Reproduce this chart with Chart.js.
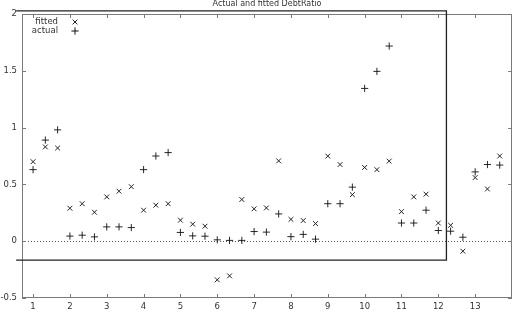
<!DOCTYPE html>
<html>
<head>
<meta charset="utf-8">
<script src="https://cdn.jsdelivr.net/npm/chart.js@4/dist/chart.umd.min.js"></script>
<style>
html,body{margin:0;padding:0;background:#fff;}
#wrap{width:516px;height:320px;position:relative;overflow:hidden;}
</style>
</head>
<body>
<div id="wrap"><canvas id="c" width="516" height="320"></canvas></div>
<script>
// Observations: 13 units x 3 periods, plotted at 1, 1.333, 1.667, 2, ...
const obsX = [1,4/3,5/3,2,7/3,8/3,3,10/3,11/3,4,13/3,14/3,5,16/3,17/3,6,19/3,20/3,7,22/3,23/3,8,25/3,26/3,9,28/3,29/3,10,31/3,32/3,11,34/3,35/3,12,37/3,38/3,13,40/3,41/3];
const actual = [0.63,0.89,0.98,0.045,0.053,0.038,0.126,0.126,0.12,0.63,0.75,0.78,0.077,0.047,0.044,0.012,0.007,0.007,0.085,0.08,0.24,0.04,0.06,0.018,0.33,0.33,0.476,1.345,1.495,1.718,0.16,0.16,0.273,0.094,0.088,0.035,0.61,0.675,0.67];
const fitted = [0.70,0.83,0.82,0.29,0.33,0.255,0.39,0.44,0.48,0.273,0.317,0.33,0.185,0.15,0.132,-0.34,-0.305,0.367,0.285,0.293,0.707,0.192,0.182,0.155,0.749,0.675,0.41,0.649,0.63,0.705,0.26,0.39,0.414,0.16,0.14,-0.088,0.56,0.46,0.75];
const xTicks = [1,2,3,4,5,6,7,8,9,10,11,12,13];
const yTicks = [-0.5,0,0.5,1,1.5,2];
const titleText = 'Actual and fitted DebtRatio';
const legendLabels = ['fitted','actual'];

const FONT = '"DejaVu Sans", sans-serif';
const fittedPts = obsX.map((x,i)=>({x:x,y:fitted[i]}));
const actualPts = obsX.map((x,i)=>({x:x,y:actual[i]}));

const decor = {
  id:'decor',
  beforeDatasetsDraw(chart){
    const ctx = chart.ctx, ys = chart.scales.y;
    const a = chart.chartArea;
    ctx.save();
    ctx.strokeStyle = '#555';
    ctx.lineWidth = 1;
    ctx.setLineDash([1,2]);
    const y0 = Math.round(ys.getPixelForValue(0))+0.5;
    ctx.beginPath(); ctx.moveTo(a.left, y0); ctx.lineTo(a.right, y0); ctx.stroke();
    ctx.restore();
  },
  afterDraw(chart){
    const ctx = chart.ctx, xs = chart.scales.x, ys = chart.scales.y;
    const a = chart.chartArea;
    ctx.save();
    ctx.strokeStyle = '#7a7a7a';
    ctx.lineWidth = 1;
    ctx.strokeRect(a.left+0.5, a.top+0.5, a.right-a.left-1, a.bottom-a.top-1);
    const tl = 4;
    ctx.beginPath();
    xTicks.forEach(v=>{
      const px = Math.round(xs.getPixelForValue(v))+0.5;
      ctx.moveTo(px, a.bottom); ctx.lineTo(px, a.bottom-tl);
      ctx.moveTo(px, a.top); ctx.lineTo(px, a.top+tl);
    });
    yTicks.forEach(v=>{
      const py = Math.round(ys.getPixelForValue(v))+0.5;
      ctx.moveTo(a.left, py); ctx.lineTo(a.left+tl, py);
      ctx.moveTo(a.right, py); ctx.lineTo(a.right-tl, py);
    });
    ctx.stroke();
    // overlay frame (annotation box)
    const rx0 = xs.getPixelForValue(0.54), rx1 = xs.getPixelForValue(12.22);
    const ry0 = ys.getPixelForValue(2.027), ry1 = ys.getPixelForValue(-0.167);
    ctx.strokeStyle = '#222';
    ctx.lineWidth = 1.3;
    ctx.beginPath();
    ctx.moveTo(rx0, ry0); ctx.lineTo(rx1, ry0); ctx.lineTo(rx1, ry1); ctx.lineTo(rx0, ry1);
    ctx.stroke();
    // title
    ctx.fillStyle = '#333';
    ctx.font = '8px ' + FONT;
    ctx.textAlign = 'center';
    ctx.textBaseline = 'alphabetic';
    ctx.fillText(titleText, (a.left+a.right)/2, 6);
    // legend
    ctx.font = '8.5px ' + FONT;
    ctx.textAlign = 'right';
    ctx.textBaseline = 'middle';
    const ds = chart.data.datasets;
    const lx = a.left + 36, sx = a.left + 53;
    [0,1].forEach((k)=>{
      const ly = a.top + 8 + k*9;
      ctx.fillStyle = '#333';
      ctx.fillText(legendLabels[k], lx, ly);
      ctx.strokeStyle = ds[k].borderColor;
      ctx.lineWidth = 1;
      Chart.helpers.drawPoint(ctx, {pointStyle: ds[k].pointStyle, radius: ds[k].pointRadius, borderWidth: 1}, sx, ly);
    });
    ctx.restore();
  }
};

new Chart(document.getElementById('c'), {
  type: 'scatter',
  data: {
    datasets: [
      {label: legendLabels[0], data: fittedPts, pointStyle: 'crossRot', pointRadius: 3.4, pointHoverRadius: 3.4, borderColor: '#222', backgroundColor: '#222', borderWidth: 1},
      {label: legendLabels[1], data: actualPts, pointStyle: 'cross', pointRadius: 3.6, pointHoverRadius: 3.6, borderColor: '#111', backgroundColor: '#111', borderWidth: 0.9}
    ]
  },
  options: {
    responsive: false,
    devicePixelRatio: 1,
    animation: false,
    events: [],
    layout: {autoPadding: false, padding: {left: 0, right: 4, top: 14, bottom: 0}},
    plugins: {legend: {display: false}, tooltip: {enabled: false}, title: {display: false}},
    scales: {
      x: {
        type: 'linear', min: 0.7, max: 14,
        afterBuildTicks(s){ s.ticks = xTicks.map(v=>({value:v})); },
        afterFit(s){ s.height = 22; },
        grid: {display: false, drawTicks: false},
        border: {display: false},
        ticks: {padding: 4, color: '#333', font: {family: FONT, size: 8.5}, maxRotation: 0, autoSkip: false}
      },
      y: {
        type: 'linear', min: -0.5, max: 2,
        afterBuildTicks(s){ s.ticks = yTicks.map(v=>({value:v})); },
        afterFit(s){ s.width = 22; },
        grid: {display: false, drawTicks: false},
        border: {display: false},
        ticks: {padding: 5, color: '#333', font: {family: FONT, size: 8.5}, callback: v => String(v)}
      }
    }
  },
  plugins: [decor]
});
</script>
</body>
</html>
